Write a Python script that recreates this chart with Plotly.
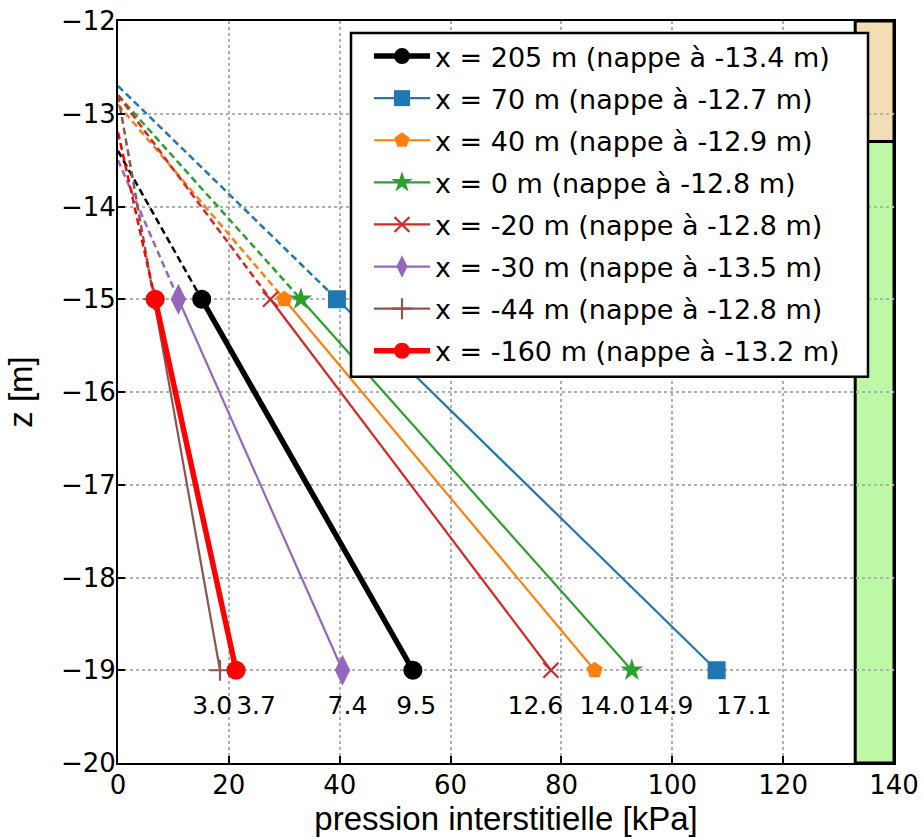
import plotly.graph_objects as go

# ---- data ----
names = ["x = 205 m (nappe à -13.4 m)", "x = 70 m (nappe à -12.7 m)", "x = 40 m (nappe à -12.9 m)",
         "x = 0 m (nappe à -12.8 m)", "x = -20 m (nappe à -12.8 m)", "x = -30 m (nappe à -13.5 m)",
         "x = -44 m (nappe à -12.8 m)", "x = -160 m (nappe à -13.2 m)"]
nappe = [-13.4, -12.7, -12.9, -12.8, -12.8, -13.5, -12.8, -13.2]
z_top = -15
z_bot = -19
p_top = [15.1, 39.5, 30.0, 33.0, 27.5, 10.9, 6.5, 6.7]
p_bot = [53.2, 108.0, 86.0, 92.7, 78.1, 40.5, 18.4, 21.3]
label_text = ["9.5", "17.1", "14.0", "14.9", "12.6", "7.4", "3.0", "3.7"]
label_x = [53.8, 112.9, 88.3, 98.8, 75.3, 41.4, 17.0, 24.9]
label_z = -19.4
layers_z = [-12.0, -13.3, -20.0]
layers_x = [133, 140]

# ---- styles ----
colors = ["black", "#1f77b4", "#ff7f0e", "#2ca02c", "#d62728", "#9467bd", "#8c564b", "red"]
symbols = ["circle", "square", "pentagon", "star", "x-thin", "diamond-tall", "cross-thin", "circle"]
msize = [19, 18, 17, 17, 15, 22, 15, 19]
lwidth = [5.5, 2.2, 2.2, 2.2, 2.2, 2.2, 2.2, 5.5]
layer_colors = ["#f3ddb2", "#bdf8a6"]

fig = go.Figure()

for i in range(len(names)):
    fig.add_trace(go.Scatter(
        x=[0, p_top[i]], y=[nappe[i], z_top], mode="lines",
        line=dict(color=colors[i], width=2.5, dash="7px,4px"),
        showlegend=False, legendgroup=str(i), hoverinfo="skip"))
for i in range(len(names)):
    thin = symbols[i] in ("x-thin", "cross-thin")
    fig.add_trace(go.Scatter(
        x=[p_top[i], p_bot[i]], y=[z_top, z_bot], mode="lines+markers",
        name=names[i], legendgroup=str(i),
        line=dict(color=colors[i], width=lwidth[i]),
        marker=dict(symbol=symbols[i], size=msize[i], color=colors[i],
                    line=dict(color=colors[i], width=2.2 if thin else 0))))

fig.add_trace(go.Scatter(
    x=label_x, y=[label_z] * len(label_x), mode="text", text=label_text,
    textfont=dict(family="DejaVu Sans", size=25, color="black"),
    showlegend=False, hoverinfo="skip"))

for j in range(len(layer_colors)):
    fig.add_shape(type="rect", xref="x", yref="y", layer="below",
                  x0=layers_x[0], x1=layers_x[1], y0=layers_z[j + 1], y1=layers_z[j],
                  fillcolor=layer_colors[j], line=dict(color="black", width=3))

# legend frame (drawn as a shape, legend itself without border)
L, T, R, B = 118, 21, 894, 763.5
def px(xp):
    return (xp - L) / (R - L)
def py(yp):
    return (B - yp) / (B - T)
fig.add_shape(type="rect", xref="paper", yref="paper", layer="above",
              x0=px(351), x1=px(868), y0=py(377), y1=py(33),
              fillcolor="white", line=dict(color="black", width=2.5))

fig.update_layout(
    width=923, height=838,
    margin=dict(l=118, r=29, t=21, b=74.5),
    plot_bgcolor="white", paper_bgcolor="white",
    font=dict(family="DejaVu Sans", size=26, color="black"),
    legend=dict(x=px(369), y=py(32), xanchor="left", yanchor="top",
                bgcolor="rgba(0,0,0,0)", borderwidth=0,
                font=dict(family="DejaVu Sans", size=27),
                traceorder="grouped", tracegroupgap=4, itemwidth=56),
    showlegend=True,
)
fig.update_xaxes(range=[0, 140], dtick=20, tick0=0, showgrid=True, gridcolor="#b0b0b0",
                 griddash="dot", gridwidth=1.5, showline=True, linecolor="black", linewidth=2,
                 mirror=True, ticks="inside", ticklen=7, tickwidth=2, tickcolor="black",
                 zeroline=False, ticklabelstandoff=-2, automargin=False,
                 title=dict(text="pression interstitielle [kPa]", standoff=0,
                            font=dict(family="Liberation Sans", size=33)))
fig.update_yaxes(range=[-20, -12], dtick=1, tick0=-20, showgrid=True, gridcolor="#b0b0b0",
                 griddash="dot", gridwidth=1.5, showline=True, linecolor="black", linewidth=2,
                 mirror=True, ticks="inside", ticklen=7, tickwidth=2, tickcolor="black",
                 zeroline=False, ticklabelstandoff=-5, tickformat="d", automargin=False,
                 title=dict(text="z [m]", standoff=18,
                            font=dict(family="Liberation Sans", size=33)))

fig.write_html("out.html", config={"displayModeBar": False},
               post_script="document.body.style.margin='0';document.body.style.overflow='hidden';")
